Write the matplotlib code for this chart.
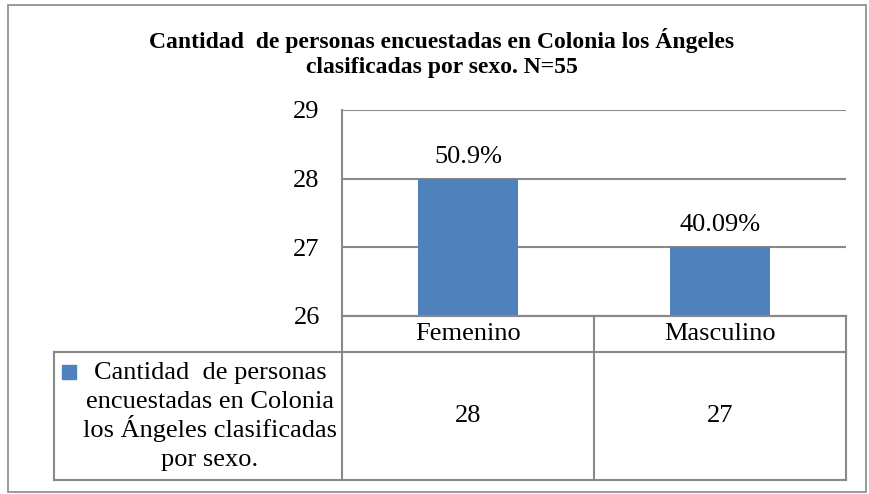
import matplotlib
matplotlib.use("Agg")
import matplotlib.pyplot as plt
from matplotlib.lines import Line2D
from matplotlib.patches import Rectangle
from matplotlib.transforms import blended_transform_factory

# datos
categorias = ['Femenino', 'Masculino']
cantidades = [28, 27]
porcentajes = ['50.9%', '40.09%']
serie = 'Cantidad  de personas\nencuestadas en Colonia\nlos Ángeles clasificadas\npor sexo.'
titulo = 'Cantidad  de personas encuestadas en Colonia los Ángeles\nclasificadas por sexo. N=55'
yticks = [26, 27, 28, 29]

W, H = 870, 494
azul = '#4F81BD'
gris = '#898989'
plt.rcParams['font.family'] = ['Liberation Serif', 'DejaVu Serif']
fs = 19


def fx(x):
    return x / W


def fy(y):
    return 1 - y / H


fig = plt.figure(figsize=(W / 100, H / 100), dpi=100)

# marco exterior
fig.add_artist(Rectangle((fx(8), fy(492)), fx(858), (492 - 5) / H,
                         transform=fig.transFigure, fill=False,
                         edgecolor=gris, lw=1.2))

fig.text(fx(442), fy(53), titulo, ha='center', va='center',
         fontsize=17, fontweight='bold', linespacing=1.3)

# area de la grafica
ax = fig.add_axes([fx(342), fy(316), (846 - 342) / W, (316 - 110) / H])
pos = list(range(len(categorias)))
barras = ax.bar(pos, cantidades, width=0.4, color=azul, zorder=3)
ax.set_xlim(-0.5, len(categorias) - 0.5)
ax.set_ylim(yticks[0], yticks[-1])
ax.set_yticks(yticks)
ax.tick_params(axis='y', length=0, labelsize=fs, pad=16)
ax.set_xticks([])
ax.yaxis.grid(True, color=gris, lw=1.5, zorder=0)
for s in ['top', 'right']:
    ax.spines[s].set_visible(False)
for s in ['left', 'bottom']:
    ax.spines[s].set_color(gris)
    ax.spines[s].set_linewidth(1.5)

for b, p in zip(barras, porcentajes):
    ax.annotate(p, (b.get_x() + b.get_width() / 2, b.get_height()),
                xytext=(0, 8), textcoords='offset points',
                ha='center', va='bottom', fontsize=fs)

# tabla de datos
def linea(x0, y0, x1, y1):
    fig.add_artist(Line2D([fx(x0), fx(x1)], [fy(y0), fy(y1)],
                          transform=fig.transFigure, color=gris, lw=1.5))


linea(342, 316, 846, 316)
linea(54, 352, 846, 352)
linea(54, 480, 846, 480)
linea(54, 352, 54, 480)
linea(342, 316, 342, 480)
linea(594, 316, 594, 480)
linea(846, 316, 846, 480)

tr = blended_transform_factory(ax.transData, fig.transFigure)
for i, (c, v) in enumerate(zip(categorias, cantidades)):
    ax.text(i, fy(334), c, transform=tr, ha='center', va='center',
            fontsize=fs, clip_on=False)
    ax.text(i, fy(416), str(v), transform=tr, ha='center', va='center',
            fontsize=fs, clip_on=False)

fig.add_artist(Rectangle((fx(62), fy(379)), 14 / W, 14 / H,
                         transform=fig.transFigure, color=azul))
# cada renglon de la etiqueta con el mismo interlineado
for k, renglon in enumerate(serie.split('\n')):
    fig.text(fx(210), fy(379 + 29 * k), renglon, ha='center', va='baseline',
             fontsize=fs)

fig.savefig('out.png', dpi=100)
